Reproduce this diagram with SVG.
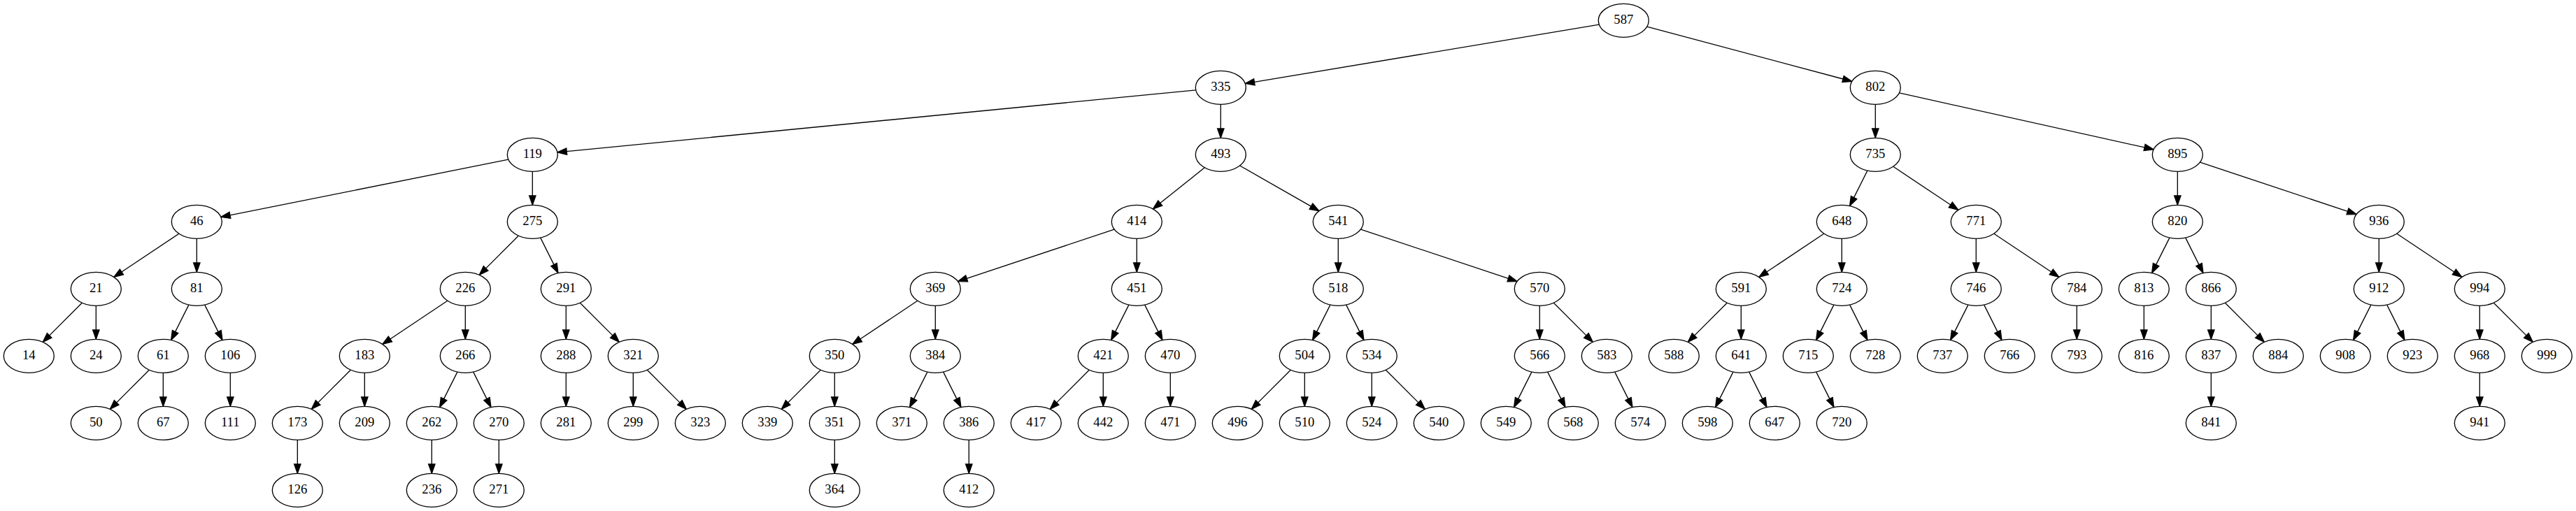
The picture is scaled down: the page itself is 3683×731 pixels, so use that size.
<svg xmlns="http://www.w3.org/2000/svg" width="3683" height="731" viewBox="0 0 3683 731">
<style>
.n ellipse { fill: #fff; stroke: #000; stroke-width: 1.33; }
.n text { font-family: "Liberation Serif", "Times New Roman", serif; font-size: 18.67px; text-anchor: middle; fill: #000; }
#edges line { stroke: #000; stroke-width: 1.33; marker-end: url(#ah); }
</style>
<defs>
<marker id="ah" markerUnits="userSpaceOnUse" markerWidth="16" markerHeight="12" viewBox="0 -6 16 12" refX="0" refY="0" orient="auto" overflow="visible">
<path d="M0,-4.67 L13.33,0 L0,4.67 Z" fill="#000" stroke="#000" stroke-width="1.33"/>
</marker>
</defs>
<rect x="0" y="0" width="3683" height="731" fill="#fff"/>
<g id="edges">
<line x1="2286.4" y1="35.2" x2="1793.4" y2="117.3"/>
<line x1="2354.7" y1="38.2" x2="2635.0" y2="113.0"/>
<line x1="1709.7" y1="128.8" x2="810.2" y2="216.6"/>
<line x1="1745.3" y1="149.3" x2="1745.3" y2="184.0"/>
<line x1="2681.3" y1="149.3" x2="2681.3" y2="184.0"/>
<line x1="2715.5" y1="132.9" x2="3066.1" y2="210.9"/>
<line x1="726.8" y1="228.2" x2="328.9" y2="307.8"/>
<line x1="761.3" y1="245.3" x2="761.3" y2="280.0"/>
<line x1="1722.3" y1="239.8" x2="1658.8" y2="290.6"/>
<line x1="1772.6" y1="237.0" x2="1874.4" y2="295.1"/>
<line x1="2669.9" y1="244.1" x2="2650.6" y2="282.6"/>
<line x1="2706.8" y1="238.3" x2="2788.8" y2="293.0"/>
<line x1="3113.3" y1="245.3" x2="3113.3" y2="280.0"/>
<line x1="3145.5" y1="232.1" x2="3356.5" y2="302.4"/>
<line x1="255.8" y1="334.3" x2="173.9" y2="389.0"/>
<line x1="281.3" y1="341.3" x2="281.3" y2="376.0"/>
<line x1="741.3" y1="337.3" x2="694.7" y2="383.9"/>
<line x1="772.7" y1="340.1" x2="792.0" y2="378.6"/>
<line x1="1593.1" y1="328.1" x2="1382.2" y2="398.4"/>
<line x1="1625.3" y1="341.3" x2="1625.3" y2="376.0"/>
<line x1="1913.3" y1="341.3" x2="1913.3" y2="376.0"/>
<line x1="1945.5" y1="328.1" x2="2156.5" y2="398.4"/>
<line x1="2607.8" y1="334.3" x2="2525.9" y2="389.0"/>
<line x1="2633.3" y1="341.3" x2="2633.3" y2="376.0"/>
<line x1="2825.3" y1="341.3" x2="2825.3" y2="376.0"/>
<line x1="2850.8" y1="334.3" x2="2932.8" y2="389.0"/>
<line x1="3101.9" y1="340.1" x2="3082.6" y2="378.6"/>
<line x1="3124.7" y1="340.1" x2="3144.0" y2="378.6"/>
<line x1="3401.3" y1="341.3" x2="3401.3" y2="376.0"/>
<line x1="3426.8" y1="334.3" x2="3508.8" y2="389.0"/>
<line x1="117.3" y1="433.3" x2="70.7" y2="479.9"/>
<line x1="137.3" y1="437.3" x2="137.3" y2="472.0"/>
<line x1="269.9" y1="436.1" x2="250.6" y2="474.6"/>
<line x1="292.7" y1="436.1" x2="312.0" y2="474.6"/>
<line x1="639.8" y1="430.3" x2="557.9" y2="485.0"/>
<line x1="665.3" y1="437.3" x2="665.3" y2="472.0"/>
<line x1="809.3" y1="437.3" x2="809.3" y2="472.0"/>
<line x1="829.3" y1="433.3" x2="875.9" y2="479.9"/>
<line x1="1311.8" y1="430.3" x2="1229.9" y2="485.0"/>
<line x1="1337.3" y1="437.3" x2="1337.3" y2="472.0"/>
<line x1="1613.9" y1="436.1" x2="1594.6" y2="474.6"/>
<line x1="1636.7" y1="436.1" x2="1656.0" y2="474.6"/>
<line x1="1901.9" y1="436.1" x2="1882.6" y2="474.6"/>
<line x1="1924.7" y1="436.1" x2="1944.0" y2="474.6"/>
<line x1="2201.3" y1="437.3" x2="2201.3" y2="472.0"/>
<line x1="2221.3" y1="433.3" x2="2267.9" y2="479.9"/>
<line x1="2469.3" y1="433.3" x2="2422.7" y2="479.9"/>
<line x1="2489.3" y1="437.3" x2="2489.3" y2="472.0"/>
<line x1="2621.9" y1="436.1" x2="2602.6" y2="474.6"/>
<line x1="2644.7" y1="436.1" x2="2664.0" y2="474.6"/>
<line x1="2813.9" y1="436.1" x2="2794.6" y2="474.6"/>
<line x1="2836.7" y1="436.1" x2="2856.0" y2="474.6"/>
<line x1="2969.3" y1="437.3" x2="2969.3" y2="472.0"/>
<line x1="3065.3" y1="437.3" x2="3065.3" y2="472.0"/>
<line x1="3161.3" y1="437.3" x2="3161.3" y2="472.0"/>
<line x1="3181.3" y1="433.3" x2="3227.9" y2="479.9"/>
<line x1="3389.9" y1="436.1" x2="3370.6" y2="474.6"/>
<line x1="3412.7" y1="436.1" x2="3432.0" y2="474.6"/>
<line x1="3545.3" y1="437.3" x2="3545.3" y2="472.0"/>
<line x1="3565.3" y1="433.3" x2="3611.9" y2="479.9"/>
<line x1="213.3" y1="529.3" x2="166.7" y2="575.9"/>
<line x1="233.3" y1="533.3" x2="233.3" y2="568.0"/>
<line x1="329.3" y1="533.3" x2="329.3" y2="568.0"/>
<line x1="501.3" y1="529.3" x2="454.7" y2="575.9"/>
<line x1="521.3" y1="533.3" x2="521.3" y2="568.0"/>
<line x1="653.9" y1="532.1" x2="634.6" y2="570.6"/>
<line x1="676.7" y1="532.1" x2="696.0" y2="570.6"/>
<line x1="809.3" y1="533.3" x2="809.3" y2="568.0"/>
<line x1="905.3" y1="533.3" x2="905.3" y2="568.0"/>
<line x1="925.3" y1="529.3" x2="971.9" y2="575.9"/>
<line x1="1173.3" y1="529.3" x2="1126.7" y2="575.9"/>
<line x1="1193.3" y1="533.3" x2="1193.3" y2="568.0"/>
<line x1="1325.9" y1="532.1" x2="1306.6" y2="570.6"/>
<line x1="1348.7" y1="532.1" x2="1368.0" y2="570.6"/>
<line x1="1557.3" y1="529.3" x2="1510.7" y2="575.9"/>
<line x1="1577.3" y1="533.3" x2="1577.3" y2="568.0"/>
<line x1="1673.3" y1="533.3" x2="1673.3" y2="568.0"/>
<line x1="1845.3" y1="529.3" x2="1798.7" y2="575.9"/>
<line x1="1865.3" y1="533.3" x2="1865.3" y2="568.0"/>
<line x1="1961.3" y1="533.3" x2="1961.3" y2="568.0"/>
<line x1="1981.3" y1="529.3" x2="2027.9" y2="575.9"/>
<line x1="2189.9" y1="532.1" x2="2170.6" y2="570.6"/>
<line x1="2212.7" y1="532.1" x2="2232.0" y2="570.6"/>
<line x1="2308.7" y1="532.1" x2="2328.0" y2="570.6"/>
<line x1="2477.9" y1="532.1" x2="2458.6" y2="570.6"/>
<line x1="2500.7" y1="532.1" x2="2520.0" y2="570.6"/>
<line x1="2596.7" y1="532.1" x2="2616.0" y2="570.6"/>
<line x1="3161.3" y1="533.3" x2="3161.3" y2="568.0"/>
<line x1="3545.3" y1="533.3" x2="3545.3" y2="568.0"/>
<line x1="425.3" y1="629.3" x2="425.3" y2="664.0"/>
<line x1="617.3" y1="629.3" x2="617.3" y2="664.0"/>
<line x1="713.3" y1="629.3" x2="713.3" y2="664.0"/>
<line x1="1193.3" y1="629.3" x2="1193.3" y2="664.0"/>
<line x1="1385.3" y1="629.3" x2="1385.3" y2="664.0"/>
</g>
<g id="n587" class="n"><ellipse cx="2321.3" cy="29.3" rx="36" ry="24"/><text x="2321.3" y="34.4">587</text></g>
<g id="n335" class="n"><ellipse cx="1745.3" cy="125.3" rx="36" ry="24"/><text x="1745.3" y="130.4">335</text></g>
<g id="n802" class="n"><ellipse cx="2681.3" cy="125.3" rx="36" ry="24"/><text x="2681.3" y="130.4">802</text></g>
<g id="n119" class="n"><ellipse cx="761.3" cy="221.3" rx="36" ry="24"/><text x="761.3" y="226.4">119</text></g>
<g id="n493" class="n"><ellipse cx="1745.3" cy="221.3" rx="36" ry="24"/><text x="1745.3" y="226.4">493</text></g>
<g id="n735" class="n"><ellipse cx="2681.3" cy="221.3" rx="36" ry="24"/><text x="2681.3" y="226.4">735</text></g>
<g id="n895" class="n"><ellipse cx="3113.3" cy="221.3" rx="36" ry="24"/><text x="3113.3" y="226.4">895</text></g>
<g id="n46" class="n"><ellipse cx="281.3" cy="317.3" rx="36" ry="24"/><text x="281.3" y="322.4">46</text></g>
<g id="n275" class="n"><ellipse cx="761.3" cy="317.3" rx="36" ry="24"/><text x="761.3" y="322.4">275</text></g>
<g id="n414" class="n"><ellipse cx="1625.3" cy="317.3" rx="36" ry="24"/><text x="1625.3" y="322.4">414</text></g>
<g id="n541" class="n"><ellipse cx="1913.3" cy="317.3" rx="36" ry="24"/><text x="1913.3" y="322.4">541</text></g>
<g id="n648" class="n"><ellipse cx="2633.3" cy="317.3" rx="36" ry="24"/><text x="2633.3" y="322.4">648</text></g>
<g id="n771" class="n"><ellipse cx="2825.3" cy="317.3" rx="36" ry="24"/><text x="2825.3" y="322.4">771</text></g>
<g id="n820" class="n"><ellipse cx="3113.3" cy="317.3" rx="36" ry="24"/><text x="3113.3" y="322.4">820</text></g>
<g id="n936" class="n"><ellipse cx="3401.3" cy="317.3" rx="36" ry="24"/><text x="3401.3" y="322.4">936</text></g>
<g id="n21" class="n"><ellipse cx="137.3" cy="413.3" rx="36" ry="24"/><text x="137.3" y="418.4">21</text></g>
<g id="n81" class="n"><ellipse cx="281.3" cy="413.3" rx="36" ry="24"/><text x="281.3" y="418.4">81</text></g>
<g id="n226" class="n"><ellipse cx="665.3" cy="413.3" rx="36" ry="24"/><text x="665.3" y="418.4">226</text></g>
<g id="n291" class="n"><ellipse cx="809.3" cy="413.3" rx="36" ry="24"/><text x="809.3" y="418.4">291</text></g>
<g id="n369" class="n"><ellipse cx="1337.3" cy="413.3" rx="36" ry="24"/><text x="1337.3" y="418.4">369</text></g>
<g id="n451" class="n"><ellipse cx="1625.3" cy="413.3" rx="36" ry="24"/><text x="1625.3" y="418.4">451</text></g>
<g id="n518" class="n"><ellipse cx="1913.3" cy="413.3" rx="36" ry="24"/><text x="1913.3" y="418.4">518</text></g>
<g id="n570" class="n"><ellipse cx="2201.3" cy="413.3" rx="36" ry="24"/><text x="2201.3" y="418.4">570</text></g>
<g id="n591" class="n"><ellipse cx="2489.3" cy="413.3" rx="36" ry="24"/><text x="2489.3" y="418.4">591</text></g>
<g id="n724" class="n"><ellipse cx="2633.3" cy="413.3" rx="36" ry="24"/><text x="2633.3" y="418.4">724</text></g>
<g id="n746" class="n"><ellipse cx="2825.3" cy="413.3" rx="36" ry="24"/><text x="2825.3" y="418.4">746</text></g>
<g id="n784" class="n"><ellipse cx="2969.3" cy="413.3" rx="36" ry="24"/><text x="2969.3" y="418.4">784</text></g>
<g id="n813" class="n"><ellipse cx="3065.3" cy="413.3" rx="36" ry="24"/><text x="3065.3" y="418.4">813</text></g>
<g id="n866" class="n"><ellipse cx="3161.3" cy="413.3" rx="36" ry="24"/><text x="3161.3" y="418.4">866</text></g>
<g id="n912" class="n"><ellipse cx="3401.3" cy="413.3" rx="36" ry="24"/><text x="3401.3" y="418.4">912</text></g>
<g id="n994" class="n"><ellipse cx="3545.3" cy="413.3" rx="36" ry="24"/><text x="3545.3" y="418.4">994</text></g>
<g id="n14" class="n"><ellipse cx="41.3" cy="509.3" rx="36" ry="24"/><text x="41.3" y="514.4">14</text></g>
<g id="n24" class="n"><ellipse cx="137.3" cy="509.3" rx="36" ry="24"/><text x="137.3" y="514.4">24</text></g>
<g id="n61" class="n"><ellipse cx="233.3" cy="509.3" rx="36" ry="24"/><text x="233.3" y="514.4">61</text></g>
<g id="n106" class="n"><ellipse cx="329.3" cy="509.3" rx="36" ry="24"/><text x="329.3" y="514.4">106</text></g>
<g id="n183" class="n"><ellipse cx="521.3" cy="509.3" rx="36" ry="24"/><text x="521.3" y="514.4">183</text></g>
<g id="n266" class="n"><ellipse cx="665.3" cy="509.3" rx="36" ry="24"/><text x="665.3" y="514.4">266</text></g>
<g id="n288" class="n"><ellipse cx="809.3" cy="509.3" rx="36" ry="24"/><text x="809.3" y="514.4">288</text></g>
<g id="n321" class="n"><ellipse cx="905.3" cy="509.3" rx="36" ry="24"/><text x="905.3" y="514.4">321</text></g>
<g id="n350" class="n"><ellipse cx="1193.3" cy="509.3" rx="36" ry="24"/><text x="1193.3" y="514.4">350</text></g>
<g id="n384" class="n"><ellipse cx="1337.3" cy="509.3" rx="36" ry="24"/><text x="1337.3" y="514.4">384</text></g>
<g id="n421" class="n"><ellipse cx="1577.3" cy="509.3" rx="36" ry="24"/><text x="1577.3" y="514.4">421</text></g>
<g id="n470" class="n"><ellipse cx="1673.3" cy="509.3" rx="36" ry="24"/><text x="1673.3" y="514.4">470</text></g>
<g id="n504" class="n"><ellipse cx="1865.3" cy="509.3" rx="36" ry="24"/><text x="1865.3" y="514.4">504</text></g>
<g id="n534" class="n"><ellipse cx="1961.3" cy="509.3" rx="36" ry="24"/><text x="1961.3" y="514.4">534</text></g>
<g id="n566" class="n"><ellipse cx="2201.3" cy="509.3" rx="36" ry="24"/><text x="2201.3" y="514.4">566</text></g>
<g id="n583" class="n"><ellipse cx="2297.3" cy="509.3" rx="36" ry="24"/><text x="2297.3" y="514.4">583</text></g>
<g id="n588" class="n"><ellipse cx="2393.3" cy="509.3" rx="36" ry="24"/><text x="2393.3" y="514.4">588</text></g>
<g id="n641" class="n"><ellipse cx="2489.3" cy="509.3" rx="36" ry="24"/><text x="2489.3" y="514.4">641</text></g>
<g id="n715" class="n"><ellipse cx="2585.3" cy="509.3" rx="36" ry="24"/><text x="2585.3" y="514.4">715</text></g>
<g id="n728" class="n"><ellipse cx="2681.3" cy="509.3" rx="36" ry="24"/><text x="2681.3" y="514.4">728</text></g>
<g id="n737" class="n"><ellipse cx="2777.3" cy="509.3" rx="36" ry="24"/><text x="2777.3" y="514.4">737</text></g>
<g id="n766" class="n"><ellipse cx="2873.3" cy="509.3" rx="36" ry="24"/><text x="2873.3" y="514.4">766</text></g>
<g id="n793" class="n"><ellipse cx="2969.3" cy="509.3" rx="36" ry="24"/><text x="2969.3" y="514.4">793</text></g>
<g id="n816" class="n"><ellipse cx="3065.3" cy="509.3" rx="36" ry="24"/><text x="3065.3" y="514.4">816</text></g>
<g id="n837" class="n"><ellipse cx="3161.3" cy="509.3" rx="36" ry="24"/><text x="3161.3" y="514.4">837</text></g>
<g id="n884" class="n"><ellipse cx="3257.3" cy="509.3" rx="36" ry="24"/><text x="3257.3" y="514.4">884</text></g>
<g id="n908" class="n"><ellipse cx="3353.3" cy="509.3" rx="36" ry="24"/><text x="3353.3" y="514.4">908</text></g>
<g id="n923" class="n"><ellipse cx="3449.3" cy="509.3" rx="36" ry="24"/><text x="3449.3" y="514.4">923</text></g>
<g id="n968" class="n"><ellipse cx="3545.3" cy="509.3" rx="36" ry="24"/><text x="3545.3" y="514.4">968</text></g>
<g id="n999" class="n"><ellipse cx="3641.3" cy="509.3" rx="36" ry="24"/><text x="3641.3" y="514.4">999</text></g>
<g id="n50" class="n"><ellipse cx="137.3" cy="605.3" rx="36" ry="24"/><text x="137.3" y="610.4">50</text></g>
<g id="n67" class="n"><ellipse cx="233.3" cy="605.3" rx="36" ry="24"/><text x="233.3" y="610.4">67</text></g>
<g id="n111" class="n"><ellipse cx="329.3" cy="605.3" rx="36" ry="24"/><text x="329.3" y="610.4">111</text></g>
<g id="n173" class="n"><ellipse cx="425.3" cy="605.3" rx="36" ry="24"/><text x="425.3" y="610.4">173</text></g>
<g id="n209" class="n"><ellipse cx="521.3" cy="605.3" rx="36" ry="24"/><text x="521.3" y="610.4">209</text></g>
<g id="n262" class="n"><ellipse cx="617.3" cy="605.3" rx="36" ry="24"/><text x="617.3" y="610.4">262</text></g>
<g id="n270" class="n"><ellipse cx="713.3" cy="605.3" rx="36" ry="24"/><text x="713.3" y="610.4">270</text></g>
<g id="n281" class="n"><ellipse cx="809.3" cy="605.3" rx="36" ry="24"/><text x="809.3" y="610.4">281</text></g>
<g id="n299" class="n"><ellipse cx="905.3" cy="605.3" rx="36" ry="24"/><text x="905.3" y="610.4">299</text></g>
<g id="n323" class="n"><ellipse cx="1001.3" cy="605.3" rx="36" ry="24"/><text x="1001.3" y="610.4">323</text></g>
<g id="n339" class="n"><ellipse cx="1097.3" cy="605.3" rx="36" ry="24"/><text x="1097.3" y="610.4">339</text></g>
<g id="n351" class="n"><ellipse cx="1193.3" cy="605.3" rx="36" ry="24"/><text x="1193.3" y="610.4">351</text></g>
<g id="n371" class="n"><ellipse cx="1289.3" cy="605.3" rx="36" ry="24"/><text x="1289.3" y="610.4">371</text></g>
<g id="n386" class="n"><ellipse cx="1385.3" cy="605.3" rx="36" ry="24"/><text x="1385.3" y="610.4">386</text></g>
<g id="n417" class="n"><ellipse cx="1481.3" cy="605.3" rx="36" ry="24"/><text x="1481.3" y="610.4">417</text></g>
<g id="n442" class="n"><ellipse cx="1577.3" cy="605.3" rx="36" ry="24"/><text x="1577.3" y="610.4">442</text></g>
<g id="n471" class="n"><ellipse cx="1673.3" cy="605.3" rx="36" ry="24"/><text x="1673.3" y="610.4">471</text></g>
<g id="n496" class="n"><ellipse cx="1769.3" cy="605.3" rx="36" ry="24"/><text x="1769.3" y="610.4">496</text></g>
<g id="n510" class="n"><ellipse cx="1865.3" cy="605.3" rx="36" ry="24"/><text x="1865.3" y="610.4">510</text></g>
<g id="n524" class="n"><ellipse cx="1961.3" cy="605.3" rx="36" ry="24"/><text x="1961.3" y="610.4">524</text></g>
<g id="n540" class="n"><ellipse cx="2057.3" cy="605.3" rx="36" ry="24"/><text x="2057.3" y="610.4">540</text></g>
<g id="n549" class="n"><ellipse cx="2153.3" cy="605.3" rx="36" ry="24"/><text x="2153.3" y="610.4">549</text></g>
<g id="n568" class="n"><ellipse cx="2249.3" cy="605.3" rx="36" ry="24"/><text x="2249.3" y="610.4">568</text></g>
<g id="n574" class="n"><ellipse cx="2345.3" cy="605.3" rx="36" ry="24"/><text x="2345.3" y="610.4">574</text></g>
<g id="n598" class="n"><ellipse cx="2441.3" cy="605.3" rx="36" ry="24"/><text x="2441.3" y="610.4">598</text></g>
<g id="n647" class="n"><ellipse cx="2537.3" cy="605.3" rx="36" ry="24"/><text x="2537.3" y="610.4">647</text></g>
<g id="n720" class="n"><ellipse cx="2633.3" cy="605.3" rx="36" ry="24"/><text x="2633.3" y="610.4">720</text></g>
<g id="n841" class="n"><ellipse cx="3161.3" cy="605.3" rx="36" ry="24"/><text x="3161.3" y="610.4">841</text></g>
<g id="n941" class="n"><ellipse cx="3545.3" cy="605.3" rx="36" ry="24"/><text x="3545.3" y="610.4">941</text></g>
<g id="n126" class="n"><ellipse cx="425.3" cy="701.3" rx="36" ry="24"/><text x="425.3" y="706.4">126</text></g>
<g id="n236" class="n"><ellipse cx="617.3" cy="701.3" rx="36" ry="24"/><text x="617.3" y="706.4">236</text></g>
<g id="n271" class="n"><ellipse cx="713.3" cy="701.3" rx="36" ry="24"/><text x="713.3" y="706.4">271</text></g>
<g id="n364" class="n"><ellipse cx="1193.3" cy="701.3" rx="36" ry="24"/><text x="1193.3" y="706.4">364</text></g>
<g id="n412" class="n"><ellipse cx="1385.3" cy="701.3" rx="36" ry="24"/><text x="1385.3" y="706.4">412</text></g>
</svg>
